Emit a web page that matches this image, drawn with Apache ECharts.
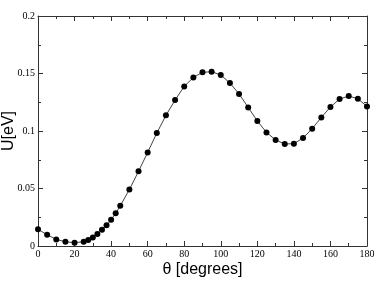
<!DOCTYPE html>
<html><head><meta charset="utf-8">
<script src="https://cdn.jsdelivr.net/npm/echarts@6/dist/echarts.min.js"></script>
<style>html,body{margin:0;padding:0;background:#fff}#c{width:381px;height:282px}</style>
</head><body><div id="c"></div>
<script>
var theta = [0,5,10,15,20,25,27.5,30,32.5,35,37.5,40,42.5,45,50,55,60,65,70,75,80,85,90,95,100,105,110,115,120,125,130,135,140,145,150,155,160,165,170,175,180];
var energy = [0.0145,0.0098,0.0057,0.0037,0.0029,0.0037,0.0052,0.0075,0.0104,0.0142,0.0180,0.0229,0.0284,0.0350,0.0491,0.0649,0.0814,0.0982,0.1136,0.1269,0.1388,0.1466,0.1510,0.1516,0.1487,0.1417,0.1322,0.1205,0.1087,0.0988,0.0922,0.0887,0.0890,0.0939,0.1020,0.1118,0.1209,0.1278,0.1304,0.1280,0.1214];
var xTicks = [0,20,40,60,80,100,120,140,160,180];
var yTicks = [0,0.05,0.1,0.15,0.2];

var pts = theta.map(function(t,i){return [t, energy[i]];});
var axisCol = '#333';
var tickCommon = {inside:true, length:5, lineStyle:{color:axisCol, width:1}};
var minorCommon = {show:true, splitNumber:2, length:3, lineStyle:{color:axisCol, width:1}};
var serif = 'Liberation Serif';

var chart = echarts.init(document.getElementById('c'));
chart.setOption({
  animation:false,
  backgroundColor:'#fff',
  grid:{left:38, right:14, top:16, bottom:36, containLabel:false, outerBoundsMode:'none'},
  xAxis:[{
    type:'value', min:0, max:180, interval:20, position:'bottom',
    name:'θ [degrees]', nameLocation:'middle', nameGap:16, nameMoveOverlap:false,
    nameTextStyle:{fontFamily:'Liberation Sans', fontSize:16, color:'#000'},
    axisLine:{show:true, onZero:false, lineStyle:{color:axisCol, width:1}},
    axisTick:tickCommon, minorTick:minorCommon,
    axisLabel:{fontFamily:serif, fontSize:10, color:'#000', margin:3,
      formatter:function(v){return xTicks.indexOf(v)>=0 ? String(v) : '';}},
    splitLine:{show:false}, minorSplitLine:{show:false}
  },{
    type:'value', min:0, max:180, interval:20, position:'top',
    axisLine:{show:true, onZero:false, lineStyle:{color:axisCol, width:1}},
    axisTick:tickCommon, minorTick:minorCommon,
    axisLabel:{show:false}, splitLine:{show:false}
  }],
  yAxis:[{
    type:'value', min:0, max:0.2, interval:0.05, position:'left',
    name:'U[eV]', nameLocation:'middle', nameGap:21, nameRotate:90, nameMoveOverlap:false,
    nameTextStyle:{fontFamily:'Liberation Sans', fontSize:16, color:'#000'},
    axisLine:{show:true, onZero:false, lineStyle:{color:axisCol, width:1}},
    axisTick:tickCommon, minorTick:minorCommon,
    axisLabel:{fontFamily:serif, fontSize:10, color:'#000', margin:3,
      formatter:function(v){
        for (var i=0;i<yTicks.length;i++){ if (Math.abs(yTicks[i]-v)<1e-9) return String(yTicks[i]); }
        return '';
      }},
    splitLine:{show:false}, minorSplitLine:{show:false}
  },{
    type:'value', min:0, max:0.2, interval:0.05, position:'right',
    axisLine:{show:true, onZero:false, lineStyle:{color:axisCol, width:1}},
    axisTick:tickCommon, minorTick:minorCommon,
    axisLabel:{show:false}, splitLine:{show:false}
  }],
  series:[{
    type:'line', xAxisIndex:0, yAxisIndex:0, data:pts,
    symbol:'circle', symbolSize:6, showAllSymbol:true,
    lineStyle:{color:'#444', width:1},
    itemStyle:{color:'#000'},
    clip:false
  },{
    type:'line', xAxisIndex:1, yAxisIndex:1, data:[], silent:true
  }]
});
</script></body></html>
